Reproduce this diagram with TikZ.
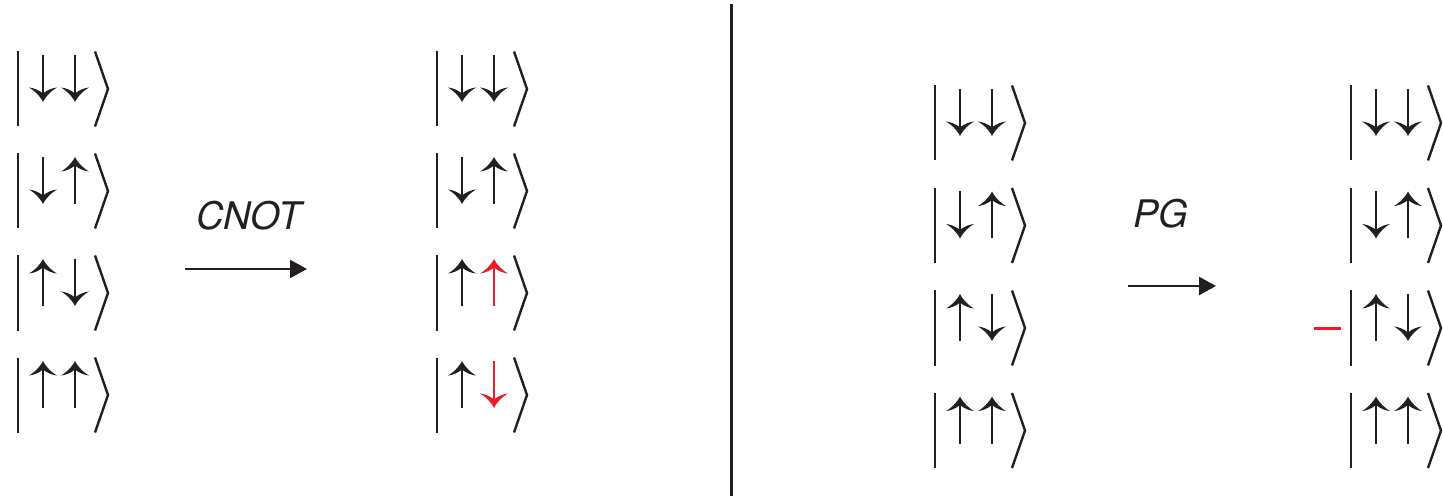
\documentclass[tikz,border=0pt]{standalone}
\usepackage{fontspec}
\setsansfont{TeX Gyre Heros}
\usetikzlibrary{arrows.meta}

\definecolor{ink}{RGB}{35,31,32}
\definecolor{flip}{RGB}{237,28,36}

\tikzset{
  ketline/.style={line width=1.2pt, draw=ink, line join=miter},
  spinstem/.style={line width=1.2pt},
  spinup/.style={yscale=-1},
  spindown/.style={},
  gatearrow/.style={line width=1.2pt, draw=ink, -{Triangle[length=8.5pt,width=9pt]}},
  gatelabel/.style={font=\sffamily\itshape\fontsize{19}{22}\selectfont, text=ink,
                    anchor=base, inner sep=0pt},
  divider/.style={line width=1.2pt, draw=ink},
  signmark/.style={line width=1.5pt, draw=flip},
}

% one spin arrow: #1 x, #2 ket centre, #3 spinup/spindown, #4 colour
\newcommand\spinarrow[4]{%
  \begin{scope}[shift={(#1,#2-10.5)}, #3]
    \draw[spinstem, #4] (0,-23.5) -- (0,16);
    \fill[#4] (0,23.5) .. controls (-3.5,16.5) and (-9.5,11.5) .. (-14,9)
      .. controls (-9.5,9.5) and (-4,11.5) .. (0,15)
      .. controls (4,11.5) and (9.5,9.5) .. (14,9)
      .. controls (9.5,11.5) and (3.5,16.5) .. cycle;
  \end{scope}}

% a two-spin ket: #1 x of the bar, #2 centre, #3/#4 first spin and colour, #5/#6 second
\newcommand\twospinket[6]{%
  \draw[ketline] (#1,#2-37.5) -- (#1,#2+37.5);
  \draw[ketline] (#1+77,#2-37.5) -- (#1+90,#2) -- (#1+77,#2+37.5);
  \spinarrow{#1+25}{#2}{#3}{#4}
  \spinarrow{#1+57}{#2}{#5}{#6}}

\begin{document}
\begin{tikzpicture}[x=0.5pt, y=-0.5pt]
  \useasboundingbox (0,0) rectangle (1443,496);

  % left panel: CNOT
  \twospinket{18}{89}{spindown}{ink}{spindown}{ink}
  \twospinket{18}{191}{spindown}{ink}{spinup}{ink}
  \twospinket{18}{293}{spinup}{ink}{spindown}{ink}
  \twospinket{18}{395}{spinup}{ink}{spinup}{ink}

  \node[gatelabel] (cnotlabel) at (249,230) {CNOT};
  \coordinate (cnotfrom) at (185,269);
  \coordinate (cnotto) at (307,269);
  \draw[gatearrow] (cnotfrom) -- (cnotto);

  \twospinket{437}{89}{spindown}{ink}{spindown}{ink}
  \twospinket{437}{191}{spindown}{ink}{spinup}{ink}
  \twospinket{437}{293}{spinup}{ink}{spinup}{flip}
  \twospinket{437}{395}{spinup}{ink}{spindown}{flip}

  % separator
  \coordinate (divtop) at (731.5,4);
  \coordinate (divbot) at (731.5,496);
  \draw[divider] (divtop) -- (divbot);

  % right panel: phase gate
  \twospinket{935}{123}{spindown}{ink}{spindown}{ink}
  \twospinket{935}{225.5}{spindown}{ink}{spinup}{ink}
  \twospinket{935}{328}{spinup}{ink}{spindown}{ink}
  \twospinket{935}{430.5}{spinup}{ink}{spinup}{ink}

  \node[gatelabel] (pglabel) at (1161,228) {PG};
  \coordinate (pgfrom) at (1128,286);
  \coordinate (pgto) at (1216,286);
  \draw[gatearrow] (pgfrom) -- (pgto);

  \twospinket{1351}{123}{spindown}{ink}{spindown}{ink}
  \twospinket{1351}{225.5}{spindown}{ink}{spinup}{ink}
  \twospinket{1351}{328}{spinup}{ink}{spindown}{ink}
  \twospinket{1351}{430.5}{spinup}{ink}{spinup}{ink}

  \coordinate (minusL) at (1314,328);
  \coordinate (minusR) at (1341,328);
  \draw[signmark] (minusL) -- (minusR);
\end{tikzpicture}
\end{document}
